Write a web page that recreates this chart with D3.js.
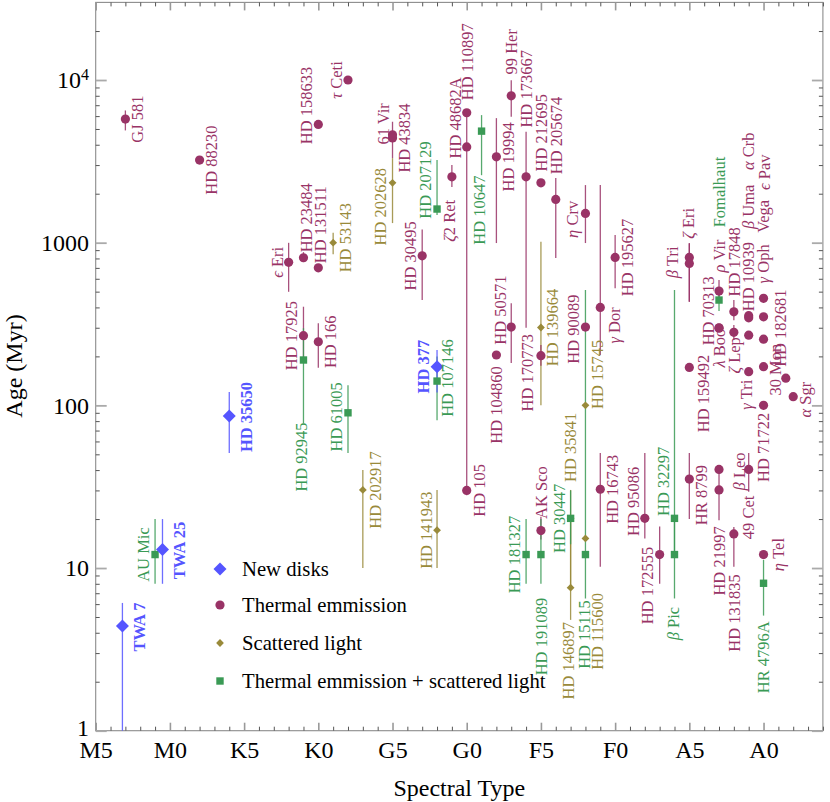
<!DOCTYPE html>
<html><head><meta charset="utf-8">
<script src="https://cdn.jsdelivr.net/npm/d3@7"></script>
<style>
body{margin:0;background:#fff}
text{font-family:"Liberation Serif","Times New Roman",serif}
</style>
</head><body>
<svg id="c" width="830" height="802"></svg>
<script>
// ---------- data ----------
// spectral index: M5=0, M0=5, K5=10, K0=15, G5=20, G0=25, F5=30, F0=35, A5=40, A0=45
const spectralTicks = ["M5","M0","K5","K0","G5","G0","F5","F0","A5","A0"];
const ageTicks = [1,10,100,1000,10000];
const ageTickLabels = ["1","10","100","1000","10^4"];
const legendLabels = ["New disks","Thermal emmission","Scattered light","Thermal emmission + scattered light"];

// [name, spectral index, age (Myr), low, high]
const newDisks = [
  ["TWA 7",1.8,4.4,1,6.1],
  ["TWA 25",4.5,13,8,20],
  ["HD 35650",9,86,51,121],
  ["HD 377",23,173,120,219]
];
const thermal = [
  ["GJ 581",2,5750,4900,6500],
  ["HD 88230",7,3220],
  ["HD 158633",15,5330],
  ["τ Ceti",17,10000],
  ["61 Vir",20,4600,3310,5540],
  ["HD 43834",20,4400],
  ["ϵ Eri",13,757,499,998],
  ["HD 23484",14,808,760,875],
  ["HD 131511",15,701],
  ["HD 17925",14,268,190,404],
  ["HD 166",15,246,170,320],
  ["HD 30495",22,830,444,1207],
  ["ζ2 Ret",24,2540,2200,3000],
  ["HD 48682A",25,3880],
  ["HD 110897",25,6290],
  ["HD 105",25,30,28,6640],
  ["99 Her",28,8000,5940,9980],
  ["HD 19994",27,3370,995,5830],
  ["HD 173667",29,2540,300,4800],
  ["HD 212695",30,2335],
  ["HD 205674",31,1845,804,2495],
  ["η Crv",33,1514,995,2260],
  ["HD 195627",35,812,524,1113],
  ["γ Dor",34,400,204,2260],
  ["HD 90089",33,303],
  ["HD 104860",27,204],
  ["HD 50571",28,303,182,425],
  ["HD 170773",30,202,175,235],
  ["AK Sco",30,17,15,20.7],
  ["HD 16743",34,30.5,10.2,51],
  ["HD 95086",37,20.2,15.2,51],
  ["HD 172555",38,12.1,8,18],
  ["β Tri",40,812,433,993],
  ["ζ Eri",40,746,433,993],
  ["HD 159492",40,171],
  ["ρ Vir",42,504,444,589],
  ["HD 70313",42,300],
  ["λ Boo",42,298],
  ["HD 17848",43,376,334,444],
  ["ζ Lep",43,281,252,312],
  ["HD 10939",44,356],
  ["β Uma",44,345],
  ["α Crb",44,270],
  ["Vega",45,455],
  ["γ Oph",45,350],
  ["ϵ Pav",45,255],
  ["30 Mon",45,173],
  ["HD 182681",46.5,147],
  ["α Sgr",47,113],
  ["γ Tri",44,161],
  ["HR 8799",40,35.2,20,51],
  ["β Leo",42,40.4],
  ["HD 21997",42,30.2,19.7,40.4],
  ["49 Cet",44,40.4,29.4,51],
  ["HD 131835",43,16.2,10.2,17.9],
  ["HD 71722",45,100],
  ["η Tel",45,12.1]
];
const scattered = [
  ["HD 202628",20,2335,1320,3310],
  ["HD 53143",16,1000,850,1150],
  ["HD 202917",18,30.2,10,40],
  ["HD 141943",23,17.1,10,30.2],
  ["HD 139664",30,301,100,1013],
  ["HD 35841",32,20.2,7.6,30.2],
  ["HD 146897",32,7.57,4.8,20],
  ["HD 15745",33,100],
  ["HD 115600",33,15.2]
];
const combined = [
  ["AU Mic",4,12.1,8,20],
  ["HD 92945",14,190,77.5,298],
  ["HD 61005",17,90,51,133],
  ["HD 207129",23,1610,1480,3220],
  ["HD 10647",26,4850,2600,6085],
  ["HD 107146",23,141,81,200],
  ["HD 181327",29,12.1,8,20],
  ["HD 191089",30,12.1,8,20],
  ["HD 30447",32,20.2,14,30],
  ["HD 15115",33,12.1,6.5,511],
  ["HD 32297",39,20.2,12,511],
  ["β Pic",39,12.1,6.5,20],
  ["Fomalhaut",42,444,380,500],
  ["HR 4796A",45,8.06,5.1,11.2]
];

// ---------- label placement (pixel offsets from marker, default right) ----------
const labelOffset = {
  "TWA 7":[17,1],"TWA 25":[17,1],"HD 35650":[17,1],"HD 377":[-14,0],
  "HD 158633":[-12,-19],"τ Ceti":[-12,0],"61 Vir":[-9,-11],"ϵ Eri":[-11,0],
  "HD 23484":[3,-40],"HD 131511":[2,-43],"HD 17925":[-12,0],"HD 30495":[-12,0],
  "ζ2 Ret":[-3,44],"HD 48682A":[-12,-29],"HD 110897":[0,-51],"99 Her":[0,-44],
  "HD 173667":[0,-88],"HD 212695":[0,-50],"HD 205674":[0,-64],"η Crv":[-13,6],
  "γ Dor":[14,18],"HD 90089":[-12,2],"HD 104860":[0,50],"HD 50571":[-11,-17],
  "HD 170773":[-14,17],"AK Sco":[0,-38],"HD 95086":[-12,-17],"HD 172555":[-12,31],
  "β Tri":[-17,5],"ζ Eri":[-1,-40],"HD 159492":[14,26],"ρ Vir":[0,-35],
  "HD 70313":[-11,-17],"λ Boo":[0,20],"HD 17848":[0,-50],"ζ Lep":[0,23],
  "HD 10939":[0,-39],"β Uma":[0,-111],"α Crb":[0,-184],"Vega":[0,-82],
  "γ Oph":[0,-53],"ϵ Pav":[1,-167],"30 Mon":[12,3],"HD 182681":[-6,-50],
  "α Sgr":[12,3],"γ Tri":[-2,23],"HR 8799":[12,16],"β Leo":[20,2],
  "HD 21997":[0,71],"49 Cet":[0,48],"HD 131835":[0,79],"HD 71722":[0,42],"η Tel":[15,0],
  "HD 202628":[-12,24],"HD 53143":[12,-5],"HD 141943":[-11,0],"HD 139664":[11,0],
  "HD 35841":[0,-71],"HD 146897":[-2,73],"HD 15745":[12,-31],"HD 115600":[12,93],
  "AU Mic":[-12,0],"HD 92945":[-2,97],"HD 61005":[-12,4],"HD 207129":[-12,-29],
  "HD 10647":[-2,79],"HD 107146":[10,-3],"HD 181327":[-12,0],"HD 191089":[0,82],
  "HD 30447":[-11,0],"HD 15115":[-1,80],"HD 32297":[-11,-37],"β Pic":[-1,69],
  "Fomalhaut":[0,-108],"HR 4796A":[0,74]
};

// ---------- drawing ----------
const svg = d3.select("#c");
const X0 = 95.7, X1 = 822.9, Y0 = 730.7, Y1 = 2.4;
const x = d3.scaleLinear().domain([0,49]).range([X0,X1]);
const y = d3.scaleLog().domain([1,30000]).range([Y0,Y1]);

const colors = {blue:"#5555ff", purple:"#993366", olive:"#998a3a", green:"#3a9a55"};
const shapes = {
  bigDiamond: () => `M0,-6.5L6.5,0L0,6.5L-6.5,0Z`,
  smallDiamond: () => `M0,-3.9L3.9,0L0,3.9L-3.9,0Z`,
  square: () => `M-3.7,-3.7H3.7V3.7H-3.7Z`,
  circle: () => d3.symbol(d3.symbolCircle, Math.PI*4.6*4.6)()
};
const series = [
  {data: scattered, color: colors.olive, shape: "smallDiamond"},
  {data: thermal, color: colors.purple, shape: "circle"},
  {data: combined, color: colors.green, shape: "square"},
  {data: newDisks, color: colors.blue, shape: "bigDiamond", bold: true}
];

// frame
svg.append("rect").attr("x",X0).attr("y",Y1).attr("width",X1-X0).attr("height",Y0-Y1)
  .attr("fill","none").attr("stroke","#8c8c8c").attr("stroke-width",1.1);

// x ticks (bottom and top)
const xMinor = d3.range(0,50).filter(d => d % 5 !== 0);
const xMajor = d3.range(0,50,5);
function styleAxis(g, col, w){ g.select(".domain").remove(); g.selectAll(".tick line").attr("stroke",col).attr("stroke-width",w); }
svg.append("g").attr("transform",`translate(0,${Y0})`)
  .call(d3.axisBottom(x).tickValues(xMinor).tickSize(-4).tickFormat(""))
  .call(g=>styleAxis(g,"#555",1));
svg.append("g").attr("transform",`translate(0,${Y1})`)
  .call(d3.axisTop(x).tickValues(xMinor).tickSize(-4).tickFormat(""))
  .call(g=>styleAxis(g,"#555",1));
svg.append("g").attr("transform",`translate(0,${Y0})`)
  .call(d3.axisBottom(x).tickValues(xMajor).tickSize(-8).tickPadding(10).tickFormat((d,i)=>spectralTicks[i]))
  .call(g=>styleAxis(g,"#999",1.6))
  .call(g=>g.selectAll(".tick text").attr("font-size",24).attr("fill","#000")
      .attr("font-family","Liberation Serif, serif"));
svg.append("g").attr("transform",`translate(0,${Y1})`)
  .call(d3.axisTop(x).tickValues(xMajor).tickSize(-8).tickFormat(""))
  .call(g=>styleAxis(g,"#999",1.6));

// y ticks (left and right)
const yMinor = [];
for (let e=0;e<5;e++) for (let m=2;m<10;m++){ const v=m*Math.pow(10,e); if (v<30000) yMinor.push(v); }
svg.append("g").attr("transform",`translate(${X0},0)`)
  .call(d3.axisLeft(y).tickValues(yMinor).tickSize(-4).tickFormat(""))
  .call(g=>styleAxis(g,"#555",1));
svg.append("g").attr("transform",`translate(${X1},0)`)
  .call(d3.axisRight(y).tickValues(yMinor).tickSize(-4).tickFormat(""))
  .call(g=>styleAxis(g,"#555",1));
svg.append("g").attr("transform",`translate(${X0},0)`)
  .call(d3.axisLeft(y).tickValues(ageTicks).tickSize(-11).tickFormat(""))
  .call(g=>styleAxis(g,"#aaa",1.8));
svg.append("g").attr("transform",`translate(${X1},0)`)
  .call(d3.axisRight(y).tickValues(ageTicks).tickSize(-11).tickFormat(""))
  .call(g=>styleAxis(g,"#aaa",1.8));

// y tick labels
ageTicks.forEach((v,i)=>{
  const t = svg.append("text").attr("x",89).attr("y",y(v) - (v===1 ? 3 : 0)).attr("dy","0.35em")
    .attr("text-anchor","end").attr("font-size",24).attr("fill","#000");
  const lab = ageTickLabels[i];
  if (lab.includes("^")) {
    const [b,e] = lab.split("^");
    t.append("tspan").text(b);
    t.append("tspan").attr("font-size",16).attr("dy","-0.55em").text(e);
  } else t.text(lab);
});

// axis titles
svg.append("text").attr("x",(X0+X1)/2).attr("y",796).attr("text-anchor","middle")
  .attr("font-size",24).text("Spectral Type");
svg.append("text").attr("transform","translate(22,366) rotate(-90)").attr("text-anchor","middle")
  .attr("font-size",24).text("Age (Myr)");

// error bars
const plot = svg.append("g");
series.forEach(s=>{
  plot.selectAll(null).data(s.data.filter(d=>d[3]!==undefined)).join("line")
    .attr("x1",d=>x(d[1])).attr("x2",d=>x(d[1]))
    .attr("y1",d=>y(d[3])).attr("y2",d=>y(d[4]))
    .attr("stroke",s.color).attr("stroke-width",1.3).attr("stroke-opacity",0.85);
});
// markers
series.forEach(s=>{
  plot.selectAll(null).data(s.data).join("path")
    .attr("transform",d=>`translate(${x(d[1])},${y(d[2])})`)
    .attr("d",shapes[s.shape]()).attr("fill",s.color);
});
// labels
function fillLabel(t, name){
  const m = name.match(/^([α-ωϵ])(.*)$/);
  if (m){ t.append("tspan").attr("font-style","italic").text(m[1]); t.append("tspan").text(m[2]); }
  else t.text(name);
}
series.forEach(s=>{
  s.data.forEach(d=>{
    const off = labelOffset[d[0]] || [12,0];
    const t = plot.append("text")
      .attr("transform",`translate(${x(d[1])+off[0]},${y(d[2])+off[1]}) rotate(-90)`)
      .attr("text-anchor","middle").attr("dy","0.35em")
      .attr("font-size",16.5).attr("fill",s.color)
      .attr("font-weight", s.bold ? "bold" : null);
    fillLabel(t, d[0]);
  });
});

// legend
const legY = [569,605,643,681];
const legShapes = ["bigDiamond","circle","smallDiamond","square"];
const legColors = [colors.blue, colors.purple, colors.olive, colors.green];
legendLabels.forEach((l,i)=>{
  svg.append("path").attr("transform",`translate(220,${legY[i]})`)
    .attr("d",shapes[legShapes[i]]()).attr("fill",legColors[i]);
  svg.append("text").attr("x",242).attr("y",legY[i]).attr("dy","0.35em")
    .attr("font-size",20.7).attr("fill","#000").text(l);
});
</script>
</body></html>
